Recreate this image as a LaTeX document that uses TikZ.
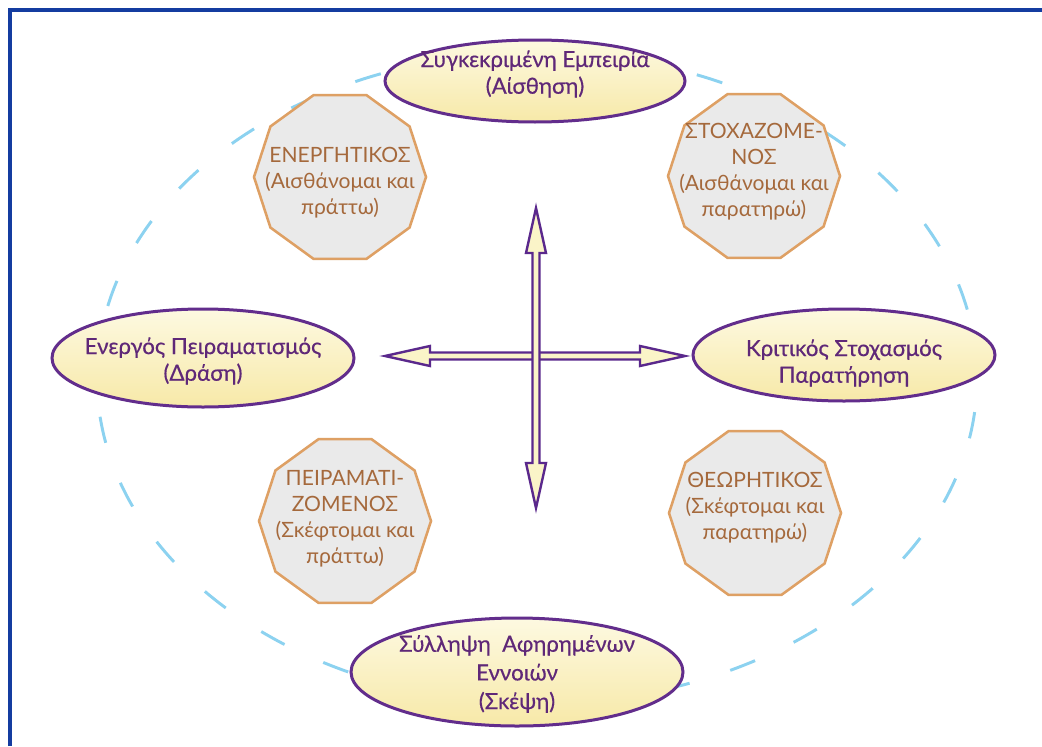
\documentclass[tikz,border=0pt]{standalone}
\usepackage{fontspec}
\setmainfont{Lato}
\newfontfamily\semibold[FakeBold=0.5]{Lato}
\usetikzlibrary{shapes.geometric}
\definecolor{frameblue}{RGB}{20,60,160}
\definecolor{dashblue}{RGB}{140,210,240}
\definecolor{ellborder}{RGB}{98,45,140}
\definecolor{elltop}{RGB}{253,249,225}
\definecolor{ellbot}{RGB}{247,233,168}
\definecolor{elltxt}{RGB}{95,40,120}
\definecolor{polyfill}{RGB}{234,234,234}
\definecolor{polyborder}{RGB}{222,160,100}
\definecolor{polytxt}{RGB}{165,105,60}
\definecolor{arrfill}{RGB}{250,244,200}
\definecolor{arrborder}{RGB}{90,40,140}
\tikzset{
  ell/.style={ellipse, draw=ellborder, line width=2.25pt, top color=elltop, bottom color=ellbot, inner sep=0pt},
  elltext/.style={font=\semibold\fontsize{16.7}{20}\selectfont, align=center, text=elltxt, inner sep=0pt},
  deca/.style={regular polygon, regular polygon sides=10, minimum size=129pt, inner sep=0pt, draw=polyborder, fill=polyfill, line width=1.9pt},
  decatext/.style={font=\fontsize{15.8}{19.5}\selectfont, align=center, text=polytxt, inner sep=0pt},
  arrowshape/.style={draw=arrborder, fill=arrfill, line width=1.8pt, line join=miter},
  dashcirc/.style={draw=dashblue, line width=2.2pt, dash pattern=on 20pt off 32pt},
  framestyle/.style={draw=frameblue, line width=2.4pt}
}
\begin{document}
\begin{tikzpicture}[x=0.75pt,y=-0.75pt]
\useasboundingbox (0,0) rectangle (1042,746);
\fill[white] (0,0) rectangle (1042,746);
% frame
\draw[framestyle] (10,746) -- (10,10) -- (1042,10);
% dashed cycle
\coordinate (c) at (537,378);
\draw[dashcirc] (c) ellipse [x radius=330pt, y radius=244pt];
% horizontal double arrow
\draw[arrowshape] (385,356) -- (430,346) -- (430,352.5) -- (640,352.5) -- (640,346) -- (685,356) -- (640,366) -- (640,359.5) -- (430,359.5) -- (430,366) -- cycle;
% vertical double arrow
\draw[arrowshape] (536,208) -- (546,253) -- (539.5,253) -- (539.5,463) -- (546,463) -- (536,508) -- (526,463) -- (532.5,463) -- (532.5,253) -- (526,253) -- cycle;
% decagons
\node[deca] (en) at (340,177) {};
\node[decatext] at (340,183) {ΕΝΕΡΓΗΤΙΚΟΣ\\(Αισθάνομαι και\\πράττω)};
\node[deca] (st) at (754,176) {};
\node[decatext] at (754,172) {ΣΤΟΧΑΖΟΜΕ-\\ΝΟΣ\\(Αισθάνομαι και\\παρατηρώ)};
\node[deca] (pe) at (345,521) {};
\node[decatext] at (345,519) {ΠΕΙΡΑΜΑΤΙ-\\ΖΟΜΕΝΟΣ\\(Σκέφτομαι και\\πράττω)};
\node[deca] (th) at (755,513) {};
\node[decatext] at (755,508) {ΘΕΩΡΗΤΙΚΟΣ\\(Σκέφτομαι και\\παρατηρώ)};
% ellipses
\node[ell, minimum width=225pt, minimum height=61.5pt] (top) at (535,81) {};
\node[elltext] at (535,74) {Συγκεκριμένη Εμπειρία\\(Αίσθηση)};
\node[ell, minimum width=226.5pt, minimum height=73.5pt] (left) at (203,358) {};
\node[elltext] at (203,361) {Ενεργός Πειραματισμός\\(Δράση)};
\node[ell, minimum width=226.5pt, minimum height=69pt] (right) at (844,355) {};
\node[elltext] at (844,363) {Κριτικός Στοχασμός\\Παρατήρηση};
\node[ell, minimum width=249pt, minimum height=81pt] (bot) at (517,672) {};
\node[elltext, font=\semibold\fontsize{16.7}{21.5}\selectfont] at (517,674) {Σύλληψη\ \ Αφηρημένων\\Εννοιών\\(Σκέψη)};
\end{tikzpicture}
\end{document}
